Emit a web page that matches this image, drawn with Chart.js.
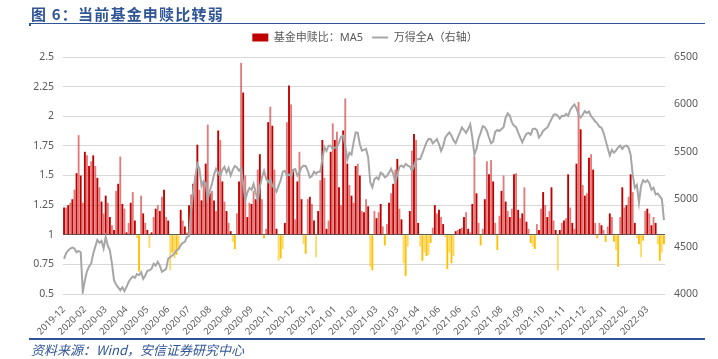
<!DOCTYPE html>
<html><head><meta charset="utf-8">
<script src="https://cdn.jsdelivr.net/npm/chart.js@4.4.1/dist/chart.umd.min.js"></script>
<style>
html,body{margin:0;padding:0;background:#fff;}
#wrap{position:relative;width:718px;height:359px;overflow:hidden;background:#fff;}
#c{position:absolute;left:0;top:0;}
.title{position:absolute;left:31px;top:3px;font-family:"Noto Sans CJK SC","Noto Sans",sans-serif;font-weight:bold;font-size:15px;color:#2F5597;letter-spacing:1.2px;white-space:nowrap;}
.rule1{position:absolute;left:29px;top:23px;width:676px;height:1px;background:#2F5597;}
.tick1{position:absolute;left:29px;top:23px;width:2px;height:3px;background:#2F5597;}
.rule2{position:absolute;left:29px;top:338px;width:676px;height:2px;background:#2F5597;}
.foot{position:absolute;left:31px;top:340px;font-family:"Noto Sans CJK SC","Noto Sans",sans-serif;font-style:italic;font-size:13px;color:#2F5597;white-space:nowrap;}
</style></head>
<body><div id="wrap">
<canvas id="c" width="718" height="359"></canvas>
<div class="title">图 6：当前基金申赎比转弱</div>
<div class="rule1"></div><div class="tick1"></div>
<div class="rule2"></div>
<div class="foot">资料来源：Wind，安信证券研究中心</div>
</div>
<script>
const tickLabels = ['2019-12','2020-02','2020-03','2020-04','2020-05','2020-06','2020-07','2020-08','2020-08','2020-09','2020-11','2020-12','2020-12','2021-01','2021-02','2021-03','2021-03','2021-04','2021-06','2021-06','2021-07','2021-08','2021-09','2021-10','2021-11','2021-12','2022-01','2022-02','2022-03'];
const seriesNames = ['基金申赎比：MA5','万得全A（右轴）'];
const ratioMA5 = [
1.23,1.23,1.25,1.27,1.30,1.38,1.52,1.84,1.50,1.27,
1.70,1.67,1.58,1.62,1.67,1.58,1.48,1.40,1.28,1.18,
1.33,1.27,1.15,1.08,1.04,1.37,1.43,1.66,1.26,1.22,
1.02,1.10,1.27,1.36,1.12,0.97,0.69,1.33,1.18,1.10,
1.04,0.89,1.02,1.15,1.22,1.25,1.20,1.32,1.38,1.15,
1.12,0.70,0.85,0.80,0.83,0.88,1.21,1.12,1.07,1.02,
1.25,1.34,1.43,1.50,1.76,1.38,1.29,1.44,1.60,1.93,
1.35,1.37,1.29,1.20,1.88,1.80,1.45,1.28,1.20,1.10,
1.03,0.94,0.88,1.18,1.45,2.45,2.20,1.50,1.15,1.27,
1.26,1.37,1.30,1.55,1.68,1.30,0.97,1.05,1.95,2.08,
1.92,1.55,1.05,0.78,0.80,0.88,1.10,1.95,2.26,2.10,
1.55,1.13,1.45,1.70,1.30,0.92,0.84,1.30,1.32,1.26,
1.12,0.81,1.20,1.46,1.80,1.48,1.05,1.12,1.70,1.94,
1.80,1.87,1.40,1.25,1.88,2.15,1.60,1.42,1.33,1.27,
1.58,1.60,1.50,1.20,1.19,1.30,1.24,0.73,0.70,1.20,
1.14,1.19,1.26,1.07,0.91,1.09,1.27,1.35,1.43,1.55,
1.64,1.22,1.13,0.76,0.65,0.90,1.20,1.71,1.85,1.80,
1.10,0.90,0.78,0.85,0.82,0.83,0.93,1.06,1.25,1.18,
1.21,1.15,1.09,0.98,0.71,0.85,0.76,0.82,1.03,1.04,
1.05,1.06,1.15,1.19,1.05,1.02,1.26,1.66,1.35,1.10,
0.91,1.05,1.30,1.62,1.51,1.63,1.45,1.10,0.87,1.16,
1.37,1.50,1.28,1.20,1.15,1.22,1.51,1.52,1.21,1.14,
1.18,1.40,1.11,1.05,0.93,0.90,0.88,1.09,1.04,1.22,
1.36,1.25,1.15,1.20,1.40,1.12,1.04,0.70,1.04,1.10,
1.12,1.14,1.51,1.23,1.10,1.05,1.60,2.12,1.89,1.42,
1.33,1.35,1.65,1.68,1.55,1.10,0.97,1.10,1.08,1.04,
0.94,1.07,1.18,1.15,0.94,0.87,0.73,1.15,1.40,1.23,
1.25,1.32,1.51,1.36,1.10,0.97,0.92,0.81,0.95,1.20,
1.22,1.18,1.08,1.15,1.10,0.92,0.78,0.85,0.92];
const windA = [
4370,4430,4460,4480,4490,4480,4440,4455,4440,4020,
4144,4240,4290,4320,4424,4500,4570,4540,4560,4480,
4600,4510,4460,4320,4144,4100,4070,4040,4070,4030,
4075,4126,4160,4185,4170,4210,4200,4230,4160,4195,
4245,4250,4265,4320,4300,4340,4300,4235,4250,4265,
4372,4390,4405,4430,4460,4475,4515,4540,4550,4600,
4610,4880,5090,5230,5370,5320,5140,5190,5170,5000,
5090,5160,5260,5320,5280,5240,5310,5340,5280,5330,
5250,5310,5350,5335,5300,5330,5160,4990,5070,5120,
5100,5160,5070,4990,5130,5230,5300,5220,5180,5210,
5140,5120,5080,5140,5200,5290,5300,5250,5260,5240,
5310,5318,5250,5280,5335,5353,5350,5300,5230,5245,
5290,5270,5290,5290,5420,5550,5510,5564,5564,5530,
5545,5545,5600,5660,5670,5564,5420,5490,5470,5599,
5704,5700,5580,5511,5520,5530,5440,5178,5125,5210,
5230,5210,5280,5265,5230,5245,5280,5320,5270,5178,
5260,5340,5355,5336,5371,5355,5345,5300,5350,5410,
5425,5425,5480,5540,5600,5634,5634,5590,5610,5634,
5580,5510,5560,5650,5680,5704,5670,5620,5590,5650,
5700,5757,5730,5700,5740,5790,5650,5470,5530,5640,
5700,5770,5760,5720,5650,5590,5610,5710,5730,5720,
5740,5760,5860,5905,5880,5810,5775,5760,5705,5650,
5600,5650,5690,5700,5680,5740,5745,5730,5650,5680,
5720,5740,5755,5800,5845,5890,5895,5880,5850,5880,
5875,5900,5880,5940,5975,6000,5960,5890,5860,5890,
5930,5910,5925,5875,5850,5820,5800,5765,5755,5700,
5620,5540,5460,5520,5490,5515,5545,5565,5530,5560,
5565,5545,5470,5260,5120,5150,4960,5140,5200,5180,
5200,5170,5100,5120,5050,5060,5030,5000,4780];
const POINTS_PER_TICK = 10;
const categories = ratioMA5.map((_, i) => i);

const RED = '#C00000', RED_L = 'rgba(205,30,30,0.58)';
const YEL = '#FFC000', YEL_L = 'rgba(255,192,0,0.6)';
const barColors = ratioMA5.map((v, i) => v >= 1 ? (i % 2 ? RED_L : RED) : (i % 2 ? YEL_L : YEL));

const FONT = '"Noto Sans","Noto Sans CJK SC",sans-serif';
const TXT = '#595959';

new Chart(document.getElementById('c'), {
  data: {
    labels: categories,
    datasets: [
      { type: 'bar', label: seriesNames[0], data: ratioMA5, yAxisID: 'y', base: 1,
        backgroundColor: barColors, borderWidth: 0, barPercentage: 1, categoryPercentage: 0.9,
        order: 1, pointStyle: 'rect' },
      { type: 'line', label: seriesNames[1], data: windA, yAxisID: 'y1',
        borderColor: '#A6A6A6', backgroundColor: '#A6A6A6', borderWidth: 2, pointRadius: 0,
        tension: 0, order: 0, pointStyle: 'line' }
    ]
  },
  options: {
    responsive: false, animation: false, devicePixelRatio: 1,
    layout: { padding: { top: 23, left: 12, right: 0, bottom: 0 } },
    plugins: {
      tooltip: { enabled: false },
      title: { display: true, text: '', weight: 500, font: { size: 1, lineHeight: 1 }, padding: { top: 0, bottom: 3 } },
      legend: {
        position: 'top',
        labels: {
          usePointStyle: true, pointStyleWidth: 16, boxHeight: 8, padding: 9,
          color: TXT, font: { family: FONT, size: 11 },
          sort: (a, b) => a.datasetIndex - b.datasetIndex,
          generateLabels: (chart) => {
            const items = Chart.defaults.plugins.legend.labels.generateLabels(chart);
            items.forEach(it => {
              if (it.datasetIndex === 0) { it.fillStyle = RED; it.strokeStyle = RED; it.lineWidth = 0; it.pointStyle = 'rect'; }
              else { it.strokeStyle = '#A6A6A6'; it.lineWidth = 2; it.pointStyle = 'line'; }
            });
            return items;
          }
        }
      }
    },
    scales: {
      x: {
        type: 'category', offset: true,
        grid: { display: false }, border: { display: false },
        ticks: {
          autoSkip: false, maxRotation: 45, minRotation: 45, padding: 2,
          color: TXT, font: { family: FONT, size: 9.5 },
          callback: (v, i) => i % POINTS_PER_TICK === 0 ? tickLabels[i / POINTS_PER_TICK] : null
        },
        afterFit: (s) => { s.height = 65; }
      },
      y: {
        position: 'left', min: 0.5, max: 2.5,
        ticks: { stepSize: 0.25, padding: 9, color: TXT, font: { family: FONT, size: 10.5 },
                 callback: (v) => String(Math.round(v * 100) / 100) },
        grid: { drawTicks: false, color: (ctx) => ctx.tick && ctx.tick.value === 1 ? '#595959' : '#D9D9D9', lineWidth: 1 },
        border: { display: false },
        afterFit: (s) => { s.width = 51; }
      },
      y1: {
        position: 'right', min: 4000, max: 6500,
        ticks: { stepSize: 500, padding: 9, color: TXT, font: { family: FONT, size: 10.5 },
                 callback: (v) => String(v) },
        grid: { display: false, drawTicks: false }, border: { display: false },
        afterFit: (s) => { s.width = 53; }
      }
    }
  }
});
</script>
</body></html>
